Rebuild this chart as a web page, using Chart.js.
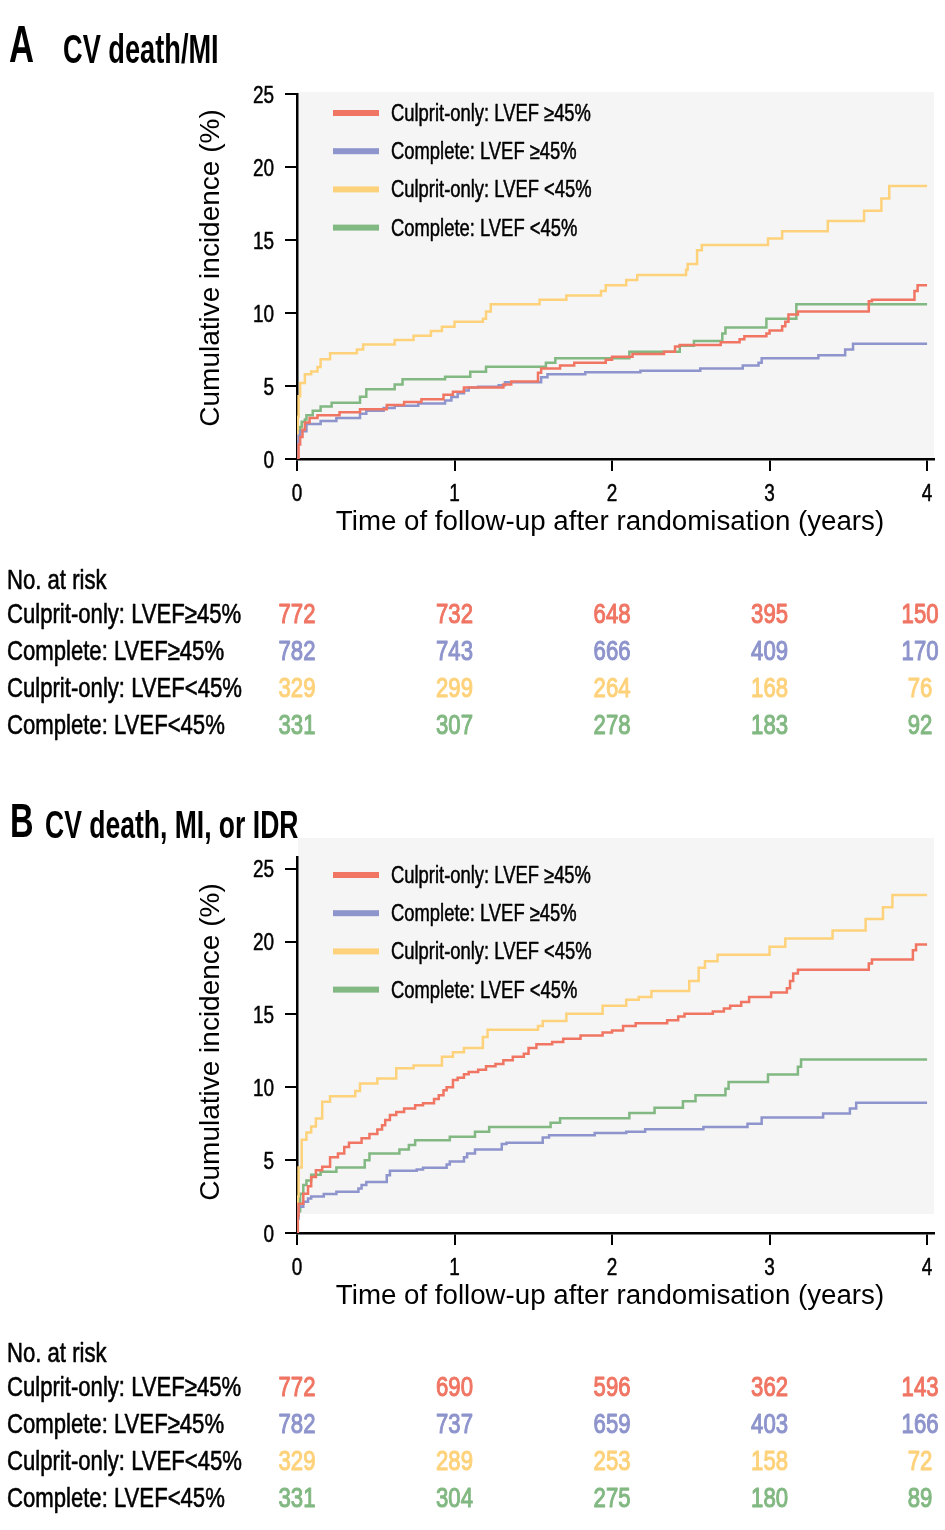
<!DOCTYPE html>
<html>
<head>
<meta charset="utf-8">
<script src="https://cdn.jsdelivr.net/npm/chart.js@4.4.1/dist/chart.umd.min.js"></script>
<style>
  html, body { margin: 0; padding: 0; background: #fff; }
  canvas { display: block; }
</style>
</head>
<body>
<canvas id="chartA" width="945" height="774"></canvas>
<canvas id="chartB" width="945" height="756"></canvas>
<script>
(function () {
    'use strict';

    // ---- data ----
    var seriesNames = ['Culprit-only: LVEF \u226545%', 'Complete: LVEF \u226545%', 'Culprit-only: LVEF <45%', 'Complete: LVEF <45%'];
    var riskLabels = ['Culprit-only: LVEF\u226545%', 'Complete: LVEF\u226545%', 'Culprit-only: LVEF<45%', 'Complete: LVEF<45%'];
    var yearTicks = [0, 1, 2, 3, 4];
    var pctTicks = [0, 5, 10, 15, 20, 25];
    var riskTimes = [0, 1, 2, 3, 4];

    // panel A: CV death/MI  [years, cumulative %]
    var aCulpritHigh = [[0,0],[0.01,1.0],[0.02,1.5],[0.035,2.0],[0.05,2.5],[0.08,2.8],[0.13,3.0],[0.27,3.2],[0.40,3.4],[0.57,3.7],[0.68,3.9],[0.79,4.1],[0.93,4.4],[0.99,4.6],[1.06,4.9],[1.31,5.1],[1.36,5.3],[1.53,5.9],[1.55,6.2],[1.67,6.4],[1.76,6.6],[1.96,6.8],[2.0,7.0],[2.13,7.2],[2.33,7.35],[2.40,7.7],[2.43,7.8],[2.69,8.0],[2.81,8.2],[2.84,8.4],[2.98,8.6],[3.0,8.8],[3.08,9.1],[3.10,9.4],[3.12,9.9],[3.18,10.1],[3.63,10.8],[3.65,10.9],[3.92,11.5],[3.94,11.9],[4.0,11.9]];
    var aCompleteHigh = [[0,0],[0.001,1.2],[0.01,1.6],[0.02,1.9],[0.06,2.4],[0.15,2.6],[0.25,2.8],[0.40,3.1],[0.44,3.3],[0.55,3.5],[0.62,3.65],[0.77,3.8],[0.94,4.0],[0.98,4.25],[1.02,4.5],[1.06,4.7],[1.09,4.9],[1.15,4.95],[1.28,5.05],[1.32,5.25],[1.55,5.6],[1.59,5.8],[1.83,5.95],[2.18,6.05],[2.56,6.2],[2.83,6.4],[2.93,6.6],[2.95,6.9],[3.31,7.1],[3.48,7.5],[3.53,7.9],[4.0,7.9]];
    var aCulpritLow = [[0,0],[0.005,2.9],[0.01,4.3],[0.02,5.2],[0.05,5.8],[0.09,6.0],[0.13,6.3],[0.15,6.83],[0.21,7.24],[0.38,7.5],[0.42,7.85],[0.62,8.15],[0.74,8.45],[0.85,8.77],[0.92,9.06],[1.0,9.4],[1.18,9.6],[1.20,10.1],[1.23,10.6],[1.54,10.9],[1.71,11.2],[1.93,11.5],[1.96,11.9],[2.09,12.26],[2.16,12.6],[2.47,12.97],[2.48,13.36],[2.54,14.3],[2.57,14.66],[2.99,15.1],[3.08,15.6],[3.37,16.3],[3.60,17.0],[3.71,17.85],[3.76,18.7],[4.0,18.7]];
    var aCompleteLow = [[0,0],[0.005,1.5],[0.02,2.2],[0.03,2.55],[0.05,2.7],[0.06,3.0],[0.10,3.3],[0.15,3.6],[0.22,3.86],[0.40,4.27],[0.44,4.77],[0.62,5.1],[0.67,5.46],[0.94,5.64],[1.10,5.98],[1.20,6.32],[1.58,6.6],[1.64,6.9],[2.11,7.35],[2.43,7.76],[2.52,8.08],[2.70,8.6],[2.72,9.0],[2.98,9.6],[3.17,10.6],[4.0,10.6]];
    var aRisk = [
        [772, 732, 648, 395, 150],
        [782, 743, 666, 409, 170],
        [329, 299, 264, 168, 76],
        [331, 307, 278, 183, 92]
    ];

    // panel B: CV death, MI, or IDR
    var bCulpritHigh = [[0,0],[0.005,1.2],[0.01,2.0],[0.04,2.7],[0.07,3.2],[0.09,3.85],[0.12,4.3],[0.16,4.55],[0.21,5.2],[0.26,5.46],[0.30,5.9],[0.33,6.2],[0.41,6.5],[0.46,6.8],[0.51,7.1],[0.54,7.4],[0.56,7.75],[0.59,8.1],[0.63,8.3],[0.68,8.55],[0.75,8.77],[0.80,8.9],[0.87,9.2],[0.90,9.45],[0.93,9.8],[0.95,10.0],[0.99,10.5],[1.02,10.65],[1.06,10.9],[1.09,11.05],[1.15,11.2],[1.20,11.45],[1.26,11.6],[1.31,11.85],[1.37,12.1],[1.44,12.3],[1.47,12.7],[1.52,12.95],[1.62,13.1],[1.69,13.33],[1.80,13.55],[1.94,13.75],[2.0,13.9],[2.07,14.2],[2.15,14.4],[2.35,14.6],[2.42,14.86],[2.46,15.05],[2.64,15.2],[2.71,15.4],[2.75,15.6],[2.82,15.85],[2.87,16.2],[3.01,16.5],[3.11,16.8],[3.13,17.3],[3.15,17.8],[3.18,18.06],[3.63,18.5],[3.65,18.77],[3.91,19.4],[3.93,19.8],[4.0,19.8]];
    var bCompleteHigh = [[0,0],[0.005,1.0],[0.01,1.8],[0.04,2.15],[0.07,2.37],[0.09,2.5],[0.17,2.67],[0.25,2.83],[0.39,3.06],[0.41,3.3],[0.44,3.5],[0.57,3.97],[0.59,4.27],[0.76,4.36],[0.80,4.47],[0.95,4.7],[0.97,4.9],[1.06,5.2],[1.08,5.46],[1.13,5.73],[1.30,6.1],[1.33,6.2],[1.56,6.55],[1.60,6.7],[1.89,6.87],[2.09,6.94],[2.21,7.12],[2.58,7.28],[2.86,7.5],[2.95,7.92],[3.34,8.2],[3.51,8.54],[3.55,8.93],[4.0,8.93]];
    var bCulpritLow = [[0,0],[0.005,2.5],[0.01,4.5],[0.03,6.4],[0.06,6.9],[0.09,7.3],[0.12,7.85],[0.16,9.0],[0.21,9.38],[0.37,9.75],[0.40,10.25],[0.51,10.6],[0.63,11.3],[0.74,11.5],[0.92,12.1],[0.99,12.4],[1.06,12.7],[1.18,13.45],[1.21,13.95],[1.53,14.2],[1.56,14.55],[1.71,15.05],[1.94,15.6],[2.09,16.0],[2.17,16.2],[2.25,16.6],[2.49,17.3],[2.55,18.2],[2.59,18.65],[2.67,19.1],[3.0,19.65],[3.1,20.2],[3.4,20.75],[3.61,21.55],[3.72,22.35],[3.78,23.2],[4.0,23.2]];
    var bCompleteLow = [[0,0],[0.005,1.5],[0.02,2.7],[0.04,3.3],[0.06,3.6],[0.09,4.0],[0.15,4.2],[0.25,4.5],[0.43,5.0],[0.46,5.46],[0.65,5.73],[0.71,6.03],[0.75,6.37],[0.97,6.6],[1.13,6.94],[1.22,7.28],[1.61,7.56],[1.67,7.88],[2.11,8.24],[2.27,8.6],[2.45,9.04],[2.53,9.45],[2.72,9.9],[2.74,10.36],[2.99,10.87],[3.18,11.4],[3.20,11.9],[4.0,11.9]];
    var bRisk = [
        [772, 690, 596, 362, 143],
        [782, 737, 659, 403, 166],
        [329, 289, 253, 158, 72],
        [331, 304, 275, 180, 89]
    ];

    // ---- style ----
    var colors = ['#f07563', '#8e94cc', '#fed27b', '#82b882'];
    var FONT = '"Liberation Sans", Arial, sans-serif';
    var SQ = 0.79;

    // condensed text: squeeze horizontally, optional stroke to thicken the strokes a bit
    function drawText(ctx, str, x, y, size, weight, squeeze, align, heavy) {
        ctx.save();
        ctx.font = weight + ' ' + size + 'px ' + FONT;
        ctx.textBaseline = 'alphabetic';
        ctx.textAlign = 'left';
        var w = ctx.measureText(str).width * squeeze;
        var x0 = align === 'center' ? x - w / 2 : (align === 'right' ? x - w : x);
        ctx.translate(x0, y);
        ctx.scale(squeeze, 1);
        ctx.fillText(str, 0, 0);
        if (heavy) {
            ctx.strokeStyle = ctx.fillStyle;
            ctx.lineWidth = heavy;
            ctx.lineJoin = 'round';
            ctx.strokeText(str, 0, 0);
        }
        ctx.restore();
    }

    function decorPlugin(p) {
        return {
            id: 'panelDecor',
            beforeDraw: function (chart) {
                var a = chart.chartArea, ctx = chart.ctx;
                ctx.save();
                ctx.fillStyle = '#f5f5f5';
                ctx.fillRect(a.left + 1, a.top + p.bgTop, a.right - a.left - 1,
                    (a.bottom + p.bgBottom) - (a.top + p.bgTop));
                ctx.restore();
            },
            afterDraw: function (chart) {
                var ctx = chart.ctx, a = chart.chartArea;
                var xs = chart.scales.x, ys = chart.scales.y;
                ctx.save();
                ctx.fillStyle = '#000';

                // titles
                drawText(ctx, p.letter, p.letterX, p.titleBase, p.letterSize, 'bold', 0.68, 'left');
                drawText(ctx, p.title, p.titleX, p.titleBase + 1, p.titleSize, 'bold', 0.68, 'left');

                // tick labels
                pctTicks.forEach(function (v) {
                    drawText(ctx, String(v), a.left - 23, ys.getPixelForValue(v) + 8.5, 24, 'normal', SQ, 'right', 0.5);
                });
                yearTicks.forEach(function (v) {
                    drawText(ctx, String(v), xs.getPixelForValue(v), a.bottom + 41.5, 24, 'normal', SQ, 'center', 0.5);
                });

                // axis titles
                ctx.font = '28px ' + FONT;
                ctx.textAlign = 'center';
                ctx.textBaseline = 'middle';
                ctx.save();
                ctx.translate(211, 268);
                ctx.rotate(-Math.PI / 2);
                ctx.fillText('Cumulative incidence (%)', 0, 0);
                ctx.restore();
                ctx.font = '27.7px ' + FONT;
                ctx.fillText('Time of follow-up after randomisation (years)', 610, a.bottom + 63);

                // legend
                seriesNames.forEach(function (name, i) {
                    var cy = p.legendY + i * 38.2;
                    ctx.fillStyle = colors[i];
                    ctx.fillRect(333, cy - 3, 46, 6);
                    ctx.fillStyle = '#000';
                    drawText(ctx, name, 391, cy + 8, 23, 'normal', 0.8, 'left', 0.5);
                });

                // number at risk table
                drawText(ctx, 'No. at risk', 7, p.tableBase, 28, 'normal', SQ, 'left', 0.6);
                riskLabels.forEach(function (lab, i) {
                    var by = p.tableBase + 34 + i * 37;
                    ctx.fillStyle = '#000';
                    drawText(ctx, lab, 7, by, 28, 'normal', SQ, 'left', 0.6);
                    ctx.fillStyle = colors[i];
                    p.risk[i].forEach(function (n, j) {
                        var tx = xs.getPixelForValue(riskTimes[j]);
                        if (j === riskTimes.length - 1) tx -= 7;
                        drawText(ctx, String(n), tx, by, 28, 'normal', SQ, 'center', 1.1);
                    });
                });
                ctx.restore();
            }
        };
    }

    function makePanel(p) {
        var el = document.getElementById(p.id);
        var datasets = p.series.map(function (pts, i) {
            return {
                label: seriesNames[i],
                data: pts.map(function (d) { return { x: d[0], y: d[1] }; }),
                borderColor: colors[i],
                backgroundColor: colors[i],
                borderWidth: 2.5,
                pointRadius: 0,
                stepped: true,
                fill: false
            };
        });
        var axisStyle = {
            grid: { drawOnChartArea: false, drawTicks: true, tickLength: 12, color: '#000', lineWidth: 2 },
            border: { display: true, color: '#000', width: 2.5 }
        };
        return new Chart(el, {
            type: 'line',
            data: { datasets: datasets },
            options: {
                responsive: false,
                animation: false,
                events: [],
                layout: { padding: { left: 0, top: p.top, right: 11, bottom: 0 } },
                plugins: { legend: { display: false }, tooltip: { enabled: false } },
                scales: {
                    x: Object.assign({
                        type: 'linear', min: 0, max: 4.044,
                        ticks: { display: false },
                        afterBuildTicks: function (s) { s.ticks = yearTicks.map(function (v) { return { value: v }; }); },
                        afterFit: function (s) { s.height = p.xHeight; }
                    }, axisStyle),
                    y: Object.assign({
                        type: 'linear', min: 0, max: p.yMax,
                        ticks: { display: false },
                        afterBuildTicks: function (s) { s.ticks = pctTicks.map(function (v) { return { value: v }; }); },
                        afterFit: function (s) { s.width = 297; }
                    }, axisStyle)
                }
            },
            plugins: [decorPlugin(p)]
        });
    }

    function init() {
        if (typeof Chart === 'undefined') return;
        makePanel({
            id: 'chartA', top: 94, yMax: 25, xHeight: 315,
            bgTop: -2, bgBottom: 0, legendY: 113,
            letter: 'A', letterX: 9, letterSize: 51, title: 'CV death/MI', titleX: 63, titleSize: 40, titleBase: 62,
            tableBase: 589,
            series: [aCulpritHigh, aCompleteHigh, aCulpritLow, aCompleteLow], risk: aRisk
        });
        makePanel({
            id: 'chartB', top: 83, yMax: 25.8, xHeight: 297,
            bgTop: -19, bgBottom: -19, legendY: 101,
            letter: 'B', letterX: 10, letterSize: 48, title: 'CV death, MI, or IDR', titleX: 45, titleSize: 39, titleBase: 63,
            tableBase: 588,
            series: [bCulpritHigh, bCompleteHigh, bCulpritLow, bCompleteLow], risk: bRisk
        });
    }

    if (document.readyState === 'loading') {
        document.addEventListener('DOMContentLoaded', init);
    } else {
        init();
    }
})();
</script>
</body>
</html>
